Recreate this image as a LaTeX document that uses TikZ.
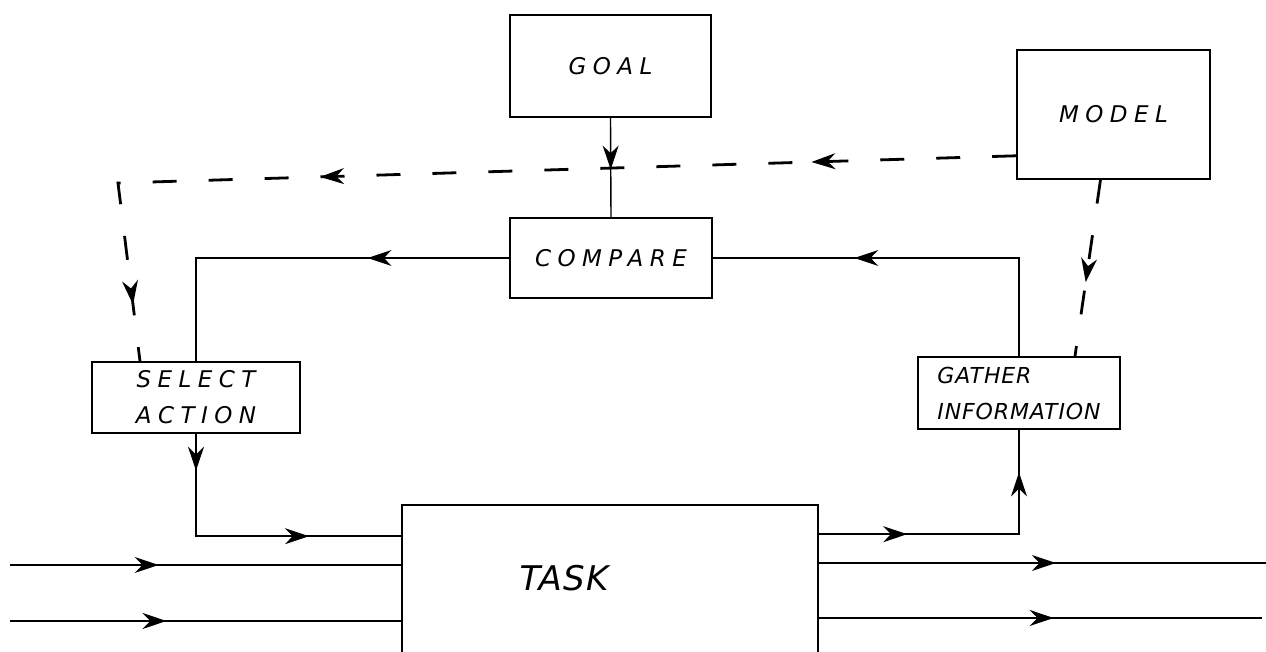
\documentclass[tikz,border=0pt]{standalone}
\usepackage{fontspec}
\newfontfamily\hand[LetterSpace=28]{DejaVu Sans}
\newfontfamily\handtight[LetterSpace=4]{DejaVu Sans}
\usetikzlibrary{arrows.meta,decorations.markings,calc}
\begin{document}
\begin{tikzpicture}[x=0.5pt,y=-0.5pt,
  box/.style={draw, line width=0.8pt, inner sep=0pt, align=center,
    font=\hand\itshape\fontsize{11.5}{18}\selectfont},
  flow/.style={line width=0.7pt},
  dashedflow/.style={line width=1.4pt, dash pattern=on 12pt off 16pt},
  mid/.style={postaction={decorate,decoration={markings,
    mark=at position #1 with {\arrow[solid,line width=0.6pt]{Stealth[length=12pt,width=8pt]}}}}}]
\useasboundingbox (0,0) rectangle (1266,652);

% boxes
\node[box, minimum width=100.5pt, minimum height=51pt] (goal) at (610.5,66) {GOAL};
\node[box, minimum width=101pt, minimum height=40pt] (compare) at (611,258) {COMPARE};
\node[box, minimum width=96.5pt, minimum height=64.5pt] (model) at (1113.5,114.5) {MODEL};
\node[box, minimum width=104pt, minimum height=35.5pt] (select) at (196,397.5) {SELECT\\ACTION};
\node[box, minimum width=101pt, minimum height=36pt, align=left,
  font=\handtight\itshape\fontsize{11}{18}\selectfont] (gather) at (1019,393) {GATHER\\INFORMATION};
\node[box, minimum width=208pt, minimum height=127.5pt] (task) at (610,632.5) {};
\node[font=\handtight\itshape\fontsize{17}{20}\selectfont, inner sep=0pt] (tasktext) at (564,578) {TASK};

% auxiliary points
\coordinate (mw) at ($(model.south west)+(0,-24)$);
\coordinate (tl) at (118,183);
\coordinate (sa) at ($(select.north)+(-56,0)$);
\coordinate (ms) at ($(model.south)+(-13,0)$);
\coordinate (gn) at ($(gather.north)+(56,0)$);
\coordinate (tin) at ($(task.north west)+(0,32)$);
\coordinate (tout) at ($(task.north east)+(0,30)$);
\coordinate (i1) at (10,565);
\coordinate (i2) at (10,621);
\coordinate (o1) at (1266,563);
\coordinate (o2) at (1262,618);

% solid connectors
\draw[flow, mid=0.52] (goal.south) -- (compare.north);
\draw[flow, mid=0.34] (compare.west) -| (select.north);
\draw[flow, mid=0.12, mid=0.70] (select.south) |- (tin);
\draw[flow, mid=0.29, mid=0.86] (tout) -| (gather.south);
\draw[flow, mid=0.65] (gather.north) |- (compare.east);

% inputs and outputs of the task
\draw[flow, mid=0.38] (i1) -- (i1 -| task.west);
\draw[flow, mid=0.40] (i2) -- (i2 -| task.west);
\draw[flow, mid=0.53] (o1 -| task.east) -- (o1);
\draw[flow, mid=0.53] (o2 -| task.east) -- (o2);

% dashed connectors from the model
\draw[dashedflow, mid=0.19, mid=0.646, mid=0.947] (mw) -- (tl) -- (sa);
\draw[dashedflow, mid=0.58] (ms) -- (gn);
\end{tikzpicture}
\end{document}
